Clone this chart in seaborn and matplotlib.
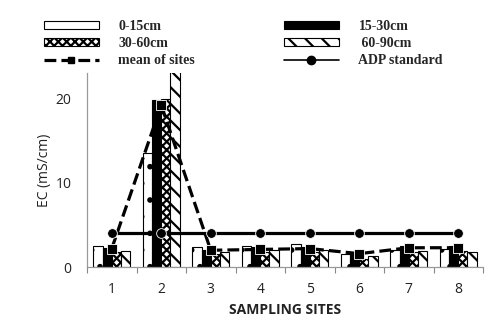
import pandas as pd
import seaborn as sns
import matplotlib.pyplot as plt
from matplotlib.patches import Rectangle
from matplotlib.lines import Line2D
from matplotlib.ticker import FixedLocator

#%% data
sites = ['1', '2', '3', '4', '5', '6', '7', '8']
depths = ['0-15cm', '15-30cm', '30-60cm', '60-90cm']
d0_15 = [2.55, 13.5, 2.4, 2.55, 2.7, 1.6, 2.05, 2.2]
d15_30 = [2.3, 19.8, 2.0, 2.4, 2.4, 1.6, 2.5, 2.5]
d30_60 = [1.85, 19.9, 1.6, 1.8, 1.8, 1.0, 1.8, 1.9]
d60_90 = [1.95, 24.0, 1.8, 2.0, 2.0, 1.3, 1.9, 1.8]
mean_sites = [2.2, 19.2, 2.0, 2.1, 2.2, 1.6, 2.3, 2.3]
adp_standard = [4, 4, 4, 4, 4, 4, 4, 4]

df = pd.DataFrame({'site': sites * 4,
                   'depth': [d for d in depths for _ in sites],
                   'EC': d0_15 + d15_30 + d30_60 + d60_90})

#%% styles
faces = {'0-15cm': 'white', '15-30cm': 'black', '30-60cm': 'white', '60-90cm': 'white'}
hatches = {'0-15cm': '.', '15-30cm': None, '30-60cm': 'xxxx', '60-90cm': '\\\\'}

sns.set_style('white')
plt.rcParams['hatch.linewidth'] = 1.6

fig = plt.figure(figsize=(5, 3.25), dpi=100)
ax = fig.add_axes([0.174, 0.178, 0.792, 0.597])

sns.barplot(data=df, x='site', y='EC', hue='depth', hue_order=depths,
            palette=faces, width=0.74, edgecolor='black', linewidth=0.8,
            legend=False, ax=ax)
for cont, dep in zip(ax.containers, depths):
    for p in cont:
        if hatches[dep]:
            p.set_hatch(hatches[dep])

sns.pointplot(x=sites, y=mean_sites, color='black', linestyles='--',
              markers='s', markersize=7, linewidth=2.3, ax=ax,
              markeredgecolor='white', markeredgewidth=0.6)
sns.pointplot(x=sites, y=adp_standard, color='black', linestyles='-',
              markers='o', markersize=7, linewidth=2.3, ax=ax,
              markeredgecolor='white', markeredgewidth=0.6)

ax.set_xlim(-0.5, 7.5)
ax.set_ylim(0, 23)
ax.set_yticks([0, 10, 20])
ax.xaxis.set_minor_locator(FixedLocator([i - 0.5 for i in range(9)]))
ax.tick_params(axis='x', which='major', length=0, labelsize=10, pad=11)
ax.tick_params(axis='x', which='minor', length=4, width=0.8, color='#888888',
               direction='out', bottom=True)
ax.tick_params(axis='y', length=0, labelsize=10, pad=11)
for lbl in ax.get_xticklabels() + ax.get_yticklabels():
    lbl.set_family('Open Sans')
    lbl.set_color('#222222')
for s in ['top', 'right']:
    ax.spines[s].set_visible(False)
for s in ['left', 'bottom']:
    ax.spines[s].set_color('#999999')
    ax.spines[s].set_linewidth(0.9)

ax.set_xlabel('SAMPLING SITES', fontsize=10, fontweight='bold',
              family='Open Sans', color='#222222', labelpad=4)
ax.set_ylabel('EC (mS/cm)', fontsize=10, family='Open Sans',
              color='#222222', labelpad=3)

#%% legend (two columns, placed separately)
def bar_handle(dep):
    return Rectangle((0, 0), 1, 1, facecolor=faces[dep], edgecolor='black',
                     hatch=hatches[dep], linewidth=0.8)

h_mean = Line2D([], [], color='black', ls='--', lw=2.3, marker='s', markersize=5)
h_adp = Line2D([], [], color='black', ls='-', lw=1.2, marker='o', markersize=6)
leg_kw = dict(loc='upper left', frameon=False, handlelength=4.0, handleheight=0.5,
              handletextpad=1.4, labelspacing=0.3,
              prop={'family': 'Liberation Serif', 'weight': 'bold', 'size': 10})
leg1 = fig.legend([bar_handle('0-15cm'), bar_handle('30-60cm'), h_mean],
                  ['0-15cm', '30-60cm', 'mean of sites'],
                  bbox_to_anchor=(0.062, 0.978), **leg_kw)
leg2 = fig.legend([bar_handle('15-30cm'), bar_handle('60-90cm'), h_adp],
                  ['15-30cm', ' 60-90cm', 'ADP standard'],
                  bbox_to_anchor=(0.542, 0.978), **leg_kw)

plt.savefig('out.png', dpi=100)
